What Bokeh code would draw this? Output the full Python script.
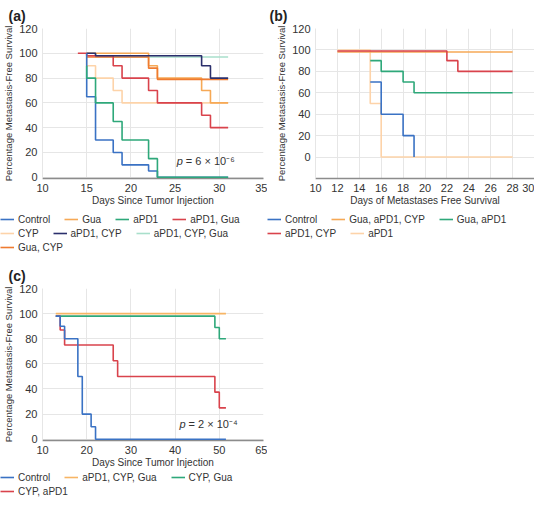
from bokeh.plotting import figure
from bokeh.models import Legend, LegendItem, FixedTicker, Label, Range1d
from bokeh.layouts import column, row
from bokeh.embed import file_html
from bokeh.resources import INLINE

FONT = "Liberation Sans"
TXT = "#333333"

# ---------------- Panel (a) data ----------------
a_x_ticks = [10, 15, 20, 25, 30, 35]
a_y_ticks = [0, 20, 40, 60, 80, 100, 120]
a_series = [
    ("Control",        "#3a72c4", [15, 15, 16, 18, 19, 22, 23, 31], [100, 65, 30, 20, 10, 5, 0, 0]),
    ("Gua",            "#f6a956", [15, 22, 23, 28, 29, 31],         [100, 90, 80, 70, 60, 60]),
    ("aPD1",           "#2ea87a", [15, 15, 16, 18, 19, 22, 23, 31], [90, 80, 60, 45, 30, 15, 0, 0]),
    ("aPD1, Gua",      "#d9434c", [14, 15, 18, 19, 22, 23, 28, 29, 31], [100, 98, 90, 80, 70, 60, 50, 40, 40]),
    ("CYP",            "#fdd3a9", [15, 15, 16, 18, 19, 31],         [100, 90, 80, 70, 60, 60]),
    ("aPD1, CYP",      "#2b2f6c", [15, 16, 28, 29, 31],             [100, 98, 90, 80, 80]),
    ("aPD1, CYP, Gua", "#a9dfcb", [15, 16, 31],                     [100, 97, 97]),
    ("Gua, CYP",       "#ef7b30", [15, 22, 23, 31],                 [97, 88, 79, 79]),
]
a_legend_rows = [["Control", "Gua", "aPD1", "aPD1, Gua"],
                 ["CYP", "aPD1, CYP", "aPD1, CYP, Gua"],
                 ["Gua, CYP"]]
a_draw_order = ["aPD1, CYP, Gua", "CYP", "Gua", "Gua, CYP", "aPD1, Gua", "aPD1, CYP", "Control", "aPD1"]
a_pvalue = ("p", "= 6 × 10⁻⁶")

# ---------------- Panel (b) data ----------------
b_x_ticks = [10, 12, 14, 16, 18, 20, 22, 24, 26, 28, 30]
b_y_ticks = [0, 20, 40, 60, 80, 100, 120]
b_series = [
    ("Control",         "#3a72c4", [15, 16, 18, 19],         [70, 40, 20, 0]),
    ("Gua, aPD1, CYP",  "#f6a956", [12, 28],                 [98, 98]),
    ("Gua, aPD1",       "#2ea87a", [15, 16, 18, 19, 28],     [90, 80, 70, 60, 60]),
    ("aPD1, CYP",       "#d9434c", [12, 22, 23, 28],         [99, 90, 80, 80]),
    ("aPD1",            "#fdd3a9", [12, 15, 16, 28],         [100, 50, 0, 0]),
]
b_legend_rows = [["Control", "Gua, aPD1, CYP", "Gua, aPD1"],
                 ["aPD1, CYP", "aPD1"]]
b_draw_order = ["aPD1", "Gua, aPD1, CYP", "aPD1, CYP", "Gua, aPD1", "Control"]

# ---------------- Panel (c) data ----------------
c_x_ticks = [10, 20, 30, 40, 50, 60]
c_x_tick_labels = ["10", "20", "30", "40", "50", "65"]
c_y_ticks = [0, 20, 40, 60, 80, 100, 120]
c_series = [
    ("Control",         "#3a72c4", [13, 14, 15, 18, 19, 21, 22, 51.5], [98, 90, 80, 50, 20, 10, 0, 0]),
    ("aPD1, CYP, Gua",  "#f7b565", [13, 51.5],                         [100, 100]),
    ("CYP, Gua",        "#2ea87a", [13, 49, 50, 51.5],                 [98, 89, 80, 80]),
    ("CYP, aPD1",       "#d9434c", [13, 14, 15, 26, 27, 49, 50, 51.5], [98, 87, 75, 62.5, 50, 37.5, 25, 25]),
]
c_legend_rows = [["Control", "aPD1, CYP, Gua", "CYP, Gua"],
                 ["CYP, aPD1"]]
c_draw_order = ["aPD1, CYP, Gua", "CYP, Gua", "CYP, aPD1", "Control"]
c_pvalue = ("p", "= 2 × 10⁻⁴")


def make_fig(title, xr, yr, xticks, yticks, xlabel, width, height, left, right, top):
    p = figure(width=width, height=height, x_range=Range1d(*xr), y_range=Range1d(*yr),
               output_backend="svg", toolbar_location=None,
               min_border_left=left, min_border_right=right,
               min_border_top=top, min_border_bottom=0)
    p.frame_align = False
    p.outline_line_color = None
    p.background_fill_color = "white"
    p.border_fill_color = "white"
    p.title.text = title
    p.title.text_font = FONT
    p.title.text_font_size = "14px"
    p.title.text_font_style = "bold"
    p.title.text_color = "#222222"
    p.title.align = "left"
    p.title.offset = -left + 2
    p.xaxis.ticker = FixedTicker(ticks=xticks)
    p.yaxis.ticker = FixedTicker(ticks=yticks)
    p.xgrid.ticker = FixedTicker(ticks=xticks)
    p.ygrid.ticker = FixedTicker(ticks=yticks)
    p.grid.grid_line_color = "#e6e6e6"
    p.grid.grid_line_width = 1
    p.xaxis.axis_label = xlabel
    p.yaxis.axis_label = "Percentage Metastasis-Free Survival"
    for ax in (p.xaxis, p.yaxis):
        ax.axis_label_text_font = FONT
        ax.axis_label_text_font_size = "9.5px"
        ax.axis_label_text_font_style = "normal"
        ax.axis_label_text_color = TXT
        ax.major_label_text_font = FONT
        ax.major_label_text_font_size = "11px"
        ax.major_label_text_color = TXT
        ax.major_tick_line_color = None
        ax.minor_tick_line_color = None
        ax.major_tick_out = 0
        ax.major_tick_in = 0
        ax.minor_tick_out = 0
        ax.minor_tick_in = 0
    p.xaxis.major_label_standoff = 5
    p.xaxis.axis_label_standoff = 0
    p.yaxis.major_label_standoff = 5
    p.yaxis.axis_label_standoff = 2
    p.xaxis.axis_label_text_font_size = "10px"
    p.xaxis.axis_line_color = "#8c8c8c"
    p.xaxis.axis_line_width = 1.5
    p.yaxis.axis_line_color = "#e6e6e6"
    return p


def draw(p, series, order):
    lookup = {s[0]: s for s in series}
    for name in order:
        _, color, xs, ys = lookup[name]
        p.step(xs, ys, mode="after", line_color=color, line_width=1.6, level="overlay")


def legend_fig(series, legend_rows, width, height, top_gap):
    lf = figure(width=width, height=height, x_range=Range1d(0, 1), y_range=Range1d(0, 1),
                output_backend="svg", toolbar_location=None, x_axis_type=None,
                y_axis_type=None, min_border=0)
    lf.frame_align = False
    lf.outline_line_color = None
    lf.grid.visible = False
    lookup = {s[0]: s for s in series}
    for i, names in enumerate(legend_rows):
        items = []
        for n in names:
            _, color, xs, ys = lookup[n]
            # same series, drawn outside this strip's visible range: only the legend swatch shows
            r = lf.step(xs, ys, mode="after", line_color=color, line_width=1.6)
            items.append(LegendItem(label=n, renderers=[r]))
        leg = Legend(items=items, orientation="horizontal",
                     location=(0, height - top_gap - 12 - 14 * i),
                     label_text_font=FONT, label_text_font_size="10px",
                     label_text_color=TXT, glyph_width=14, glyph_height=12,
                     label_height=12, label_width=10, label_standoff=4, spacing=14,
                     padding=0, margin=0, border_line_color=None,
                     background_fill_alpha=0)
        lf.add_layout(leg, "center")
    return lf


def pval(p, x, y, parts):
    p.add_layout(Label(x=x, y=y, text=parts[0], text_font=FONT, text_font_size="11px",
                       text_font_style="italic", text_color=TXT, text_baseline="middle"))
    p.add_layout(Label(x=x, y=y, x_offset=9, text=parts[1], text_font=FONT,
                       text_font_size="11px", text_color=TXT, text_baseline="middle"))


pa = make_fig("(a)", (10, 35), (-1, 120), a_x_ticks, a_y_ticks, "Days Since Tumor Injection",
              267, 208, 36, 4, 0)
draw(pa, a_series, a_draw_order)
pval(pa, 25.2, 13, a_pvalue)
la = legend_fig(a_series, a_legend_rows, 267, 46, 5)

pb = make_fig("(b)", (10, 30), (-20, 120), b_x_ticks, b_y_ticks, "Days of Metastases Free Survival",
              267, 208, 48, 0, 0)
draw(pb, b_series, b_draw_order)
lb = legend_fig(b_series, b_legend_rows, 267, 46, 5)

pc = make_fig("(c)", (10, 60), (-1, 120), c_x_ticks, c_y_ticks, "Days Since Tumor Injection",
              267, 216, 36, 4, 34)
pc.xaxis.major_label_overrides = {t: l for t, l in zip(c_x_ticks, c_x_tick_labels)}
draw(pc, c_series, c_draw_order)
pval(pc, 41, 12, c_pvalue)
lc = legend_fig(c_series, c_legend_rows, 267, 28, 1)

layout = column(row(column(pa, la), column(pb, lb)), column(pc, lc))
open("out.html", "w").write(file_html(layout, INLINE))
